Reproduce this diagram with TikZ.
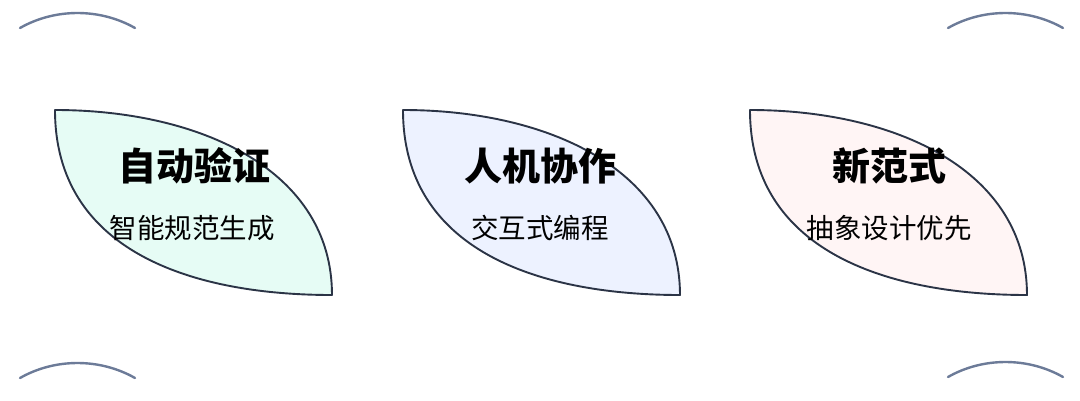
\documentclass[tikz,border=0pt]{standalone}
\usepackage{fontspec}
\setmainfont{Noto Sans CJK SC}
\usepackage{tikz}
\usepackage{color}
\definecolor{leafline}{HTML}{2B3446}
\definecolor{arcline}{HTML}{6C7B98}
\definecolor{mintfill}{HTML}{E6FCF5}
\definecolor{bluefill}{HTML}{EDF2FF}
\definecolor{pinkfill}{HTML}{FFF5F5}

\begin{document}
\begin{tikzpicture}[x=1pt,y=-1pt,
	leaf/.style={draw=leafline,line width=1.9pt,line join=round},
	cornerarc/.style={draw=arcline,line width=2.4pt,line cap=round},
	title/.style={font=\bfseries\fontsize{38}{44}\selectfont},
	subtitle/.style={font=\fontsize{27.5}{32}\selectfont}]
	\useasboundingbox (0,0) rectangle (1080,400);
	% corner arcs
		\draw[cornerarc] (20,28) .. controls (55,8) and (100,8) .. (135,28);
		\draw[cornerarc] (948,28) .. controls (983,8) and (1028,8) .. (1063,28);
		\draw[cornerarc] (20,378) .. controls (55,358) and (100,358) .. (135,378);
		\draw[cornerarc] (948,377) .. controls (983,357) and (1028,357) .. (1063,377);
	% leaf 1
		\draw[leaf,fill=mintfill] (55,110) .. controls (200,110) and (332,170) .. (332,295) .. controls (190,295) and (55,250) .. cycle;
		\node[title] (auto) at (194,166) {自动验证};
		\node[subtitle] (autosub) at (192,228) {智能规范生成};
	% leaf 2
		\draw[leaf,fill=bluefill] (403,110) .. controls (548,110) and (680,170) .. (680,295) .. controls (538,295) and (403,250) .. cycle;
		\node[title] (human) at (540,166) {人机协作};
		\node[subtitle] (humansub) at (540,228) {交互式编程};
	% leaf 3
		\draw[leaf,fill=pinkfill] (750,110) .. controls (895,110) and (1027,170) .. (1027,295) .. controls (885,295) and (750,250) .. cycle;
		\node[title] (paradigm) at (889,166) {新范式};
		\node[subtitle] (paradigmsub) at (889,228) {抽象设计优先};
\end{tikzpicture}
\end{document}
